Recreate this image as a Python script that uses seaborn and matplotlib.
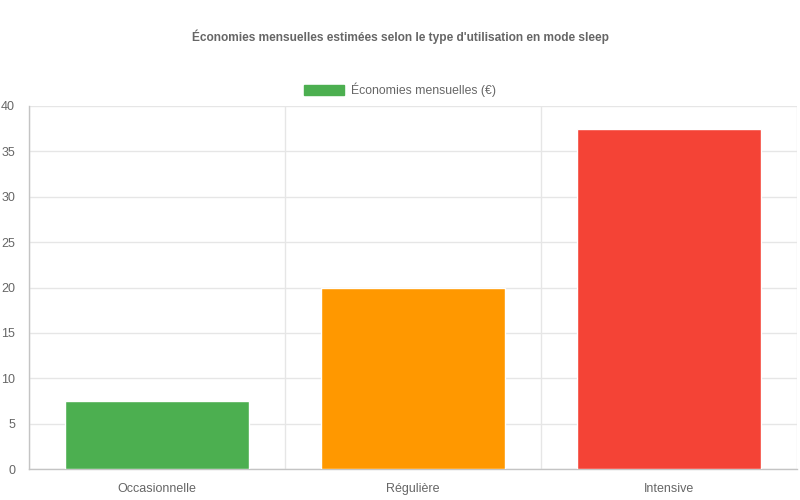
import matplotlib
matplotlib.use("Agg")
import matplotlib.pyplot as plt
import matplotlib.patches as mpatches
import seaborn as sns
import pandas as pd

# données
categories = ["Occasionnelle", "Régulière", "Intensive"]
economies = [7.5, 20, 37.5]
couleurs = ["#4CAF50", "#FF9800", "#F44336"]

df = pd.DataFrame({"usage": categories, "eco": economies})

sns.set_theme(style="white")
plt.rcParams["font.family"] = ["Liberation Sans", "DejaVu Sans"]

fig = plt.figure(figsize=(8, 5), dpi=100)
ax = fig.add_axes([29 / 800, 31 / 500, 768 / 800, 363 / 500])

sns.barplot(data=df, x="usage", y="eco", hue="usage", palette=couleurs,
            width=0.72, legend=False, saturation=1, ax=ax, zorder=3)

ax.set_xlim(-0.5, 2.5)
ax.set_ylim(0, 40)
ax.set_yticks(range(0, 41, 5))
ax.set_xlabel("")
ax.set_ylabel("")

grid_c = "#e6e6e6"
ax.grid(axis="y", color=grid_c, linewidth=1, zorder=0)
ax.set_xticks([-0.5, 0.5, 1.5, 2.5], minor=True)
ax.grid(axis="x", which="minor", color=grid_c, linewidth=1, zorder=0)

for s in ["top", "right"]:
    ax.spines[s].set_visible(False)
for s in ["left", "bottom"]:
    ax.spines[s].set_color("#c4c4c4")
    ax.spines[s].set_linewidth(1)

ax.tick_params(axis="y", length=8, color=grid_c, labelsize=9,
               labelcolor="#666666", pad=2)
ax.tick_params(axis="x", which="major", length=0, labelsize=9,
               labelcolor="#666666", pad=10)
ax.tick_params(axis="x", which="minor", length=9, color="#d0d0d0")

fig.text(0.5, 1 - 37 / 500, "Économies mensuelles estimées selon le type d'utilisation en mode sleep",
         ha="center", va="center", fontsize=8.6, fontweight="bold", color="#666666")

handle = mpatches.Patch(facecolor=couleurs[0], edgecolor=couleurs[0])
fig.legend([handle], ["Économies mensuelles (€)"], loc="center",
           bbox_to_anchor=(0.5, 1 - 90 / 500), frameon=False, fontsize=8.8,
           labelcolor="#666666", handlelength=3.3, handleheight=0.9,
           handletextpad=0.6)

fig.savefig("out.png", dpi=100)
